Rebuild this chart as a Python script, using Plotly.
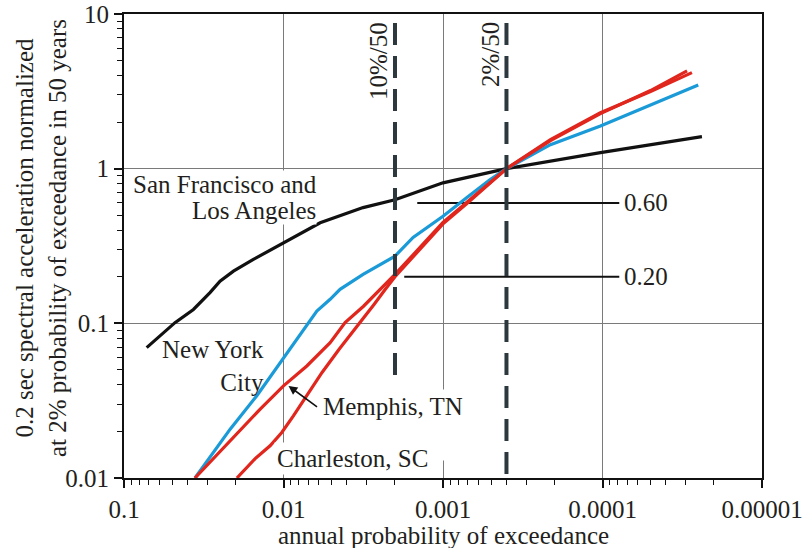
import math
import plotly.graph_objects as go

# ---- data ----
sf_x = [0.0721, 0.0479, 0.0367, 0.0289, 0.025, 0.0206, 0.01545, 0.01, 0.00589, 0.00317,
        0.002, 0.001, 0.0004, 0.000103, 0.00005, 0.0000238]
sf_y = [0.0697, 0.101, 0.123, 0.158, 0.1875, 0.2175, 0.259, 0.332, 0.447, 0.56,
        0.63, 0.81, 1.0, 1.27, 1.43, 1.61]

nyc_x = [0.0359, 0.0216, 0.0147, 0.01, 0.00698, 0.00618, 0.0051, 0.00442, 0.00317, 0.002,
         0.00154, 0.001, 0.000708, 0.000506, 0.0004, 0.000212, 0.000103, 0.00005, 0.0000251]
nyc_y = [0.01, 0.0207, 0.034, 0.060, 0.101, 0.12, 0.143, 0.166, 0.207, 0.272,
         0.359, 0.492, 0.65, 0.849, 1.0, 1.43, 1.89, 2.59, 3.48]

mem_x = [0.0359, 0.0216, 0.0140, 0.01, 0.00714, 0.0051, 0.00411, 0.00315, 0.00248, 0.002,
         0.001, 0.000708, 0.0004, 0.000212, 0.000103, 0.00005, 0.0000275]
mem_y = [0.01, 0.0174, 0.0279, 0.0394, 0.053, 0.075, 0.101, 0.129, 0.166, 0.207,
         0.449, 0.604, 1.0, 1.54, 2.30, 3.15, 4.18]

chs_x = [0.0196, 0.0151, 0.01214, 0.01025, 0.00867, 0.00714, 0.00573, 0.00448, 0.0033, 0.0027,
         0.0023, 0.002, 0.001, 0.000708, 0.0004, 0.000212, 0.000103, 0.00005, 0.0000295]
chs_y = [0.01, 0.0133, 0.01616, 0.0197, 0.0252, 0.034, 0.0481, 0.068, 0.101, 0.133,
         0.166, 0.20, 0.44, 0.595, 1.0, 1.52, 2.27, 3.2, 4.29]

hazard_levels = [0.002, 0.0004]          # 10%/50, 2%/50
hazard_labels = ["10%/50", "2%/50"]
hazard_ytop = [8.75, 8.75]
hazard_ybot = [0.045, 0.01]

ratio_vals = [0.60, 0.20]
ratio_labels = ["0.60", "0.20"]
ratio_xstart = [0.00145, 0.00175]
ratio_xend = [0.0000785, 0.0000785]

x_ticks = [0.1, 0.01, 0.001, 0.0001, 0.00001]
x_ticklabels = ["0.1", "0.01", "0.001", "0.0001", "0.00001"]
y_ticks = [0.01, 0.1, 1, 10]
y_ticklabels = ["0.01", "0.1", "1", "10"]

x_minor = [m * 10 ** k for k in range(-5, -1) for m in range(2, 10)]
y_minor = [m * 10 ** k for k in range(-2, 1) for m in range(2, 10)]

FONT = "Liberation Serif"
TXT = "#231f20"
FS = 25

fig = go.Figure()

# ratio indicator lines
for v, xs, xe in zip(ratio_vals, ratio_xstart, ratio_xend):
    fig.add_trace(go.Scatter(x=[xs, xe], y=[v, v], mode="lines",
                             line=dict(color="#111111", width=2.2), hoverinfo="skip"))

series = [
    (sf_x, sf_y, "#111111"),
    (nyc_x, nyc_y, "#1b9ad8"),
    (mem_x, mem_y, "#e0261d"),
    (chs_x, chs_y, "#e0261d"),
]
for xs, ys, c in series:
    fig.add_trace(go.Scatter(x=xs, y=ys, mode="lines",
                             line=dict(color=c, width=3.2), hoverinfo="skip"))

# hazard-level dashed lines
for h, yt, yb in zip(hazard_levels, hazard_ytop, hazard_ybot):
    fig.add_trace(go.Scatter(x=[h, h], y=[yt, yb], mode="lines",
                             line=dict(color="#2d383e", width=4, dash="22px,11px"),
                             hoverinfo="skip"))

def px2paper_x(px):
    return (px - 124) / 638.0

def px2paper_y(py):
    return (478 - py) / 464.0

ann = []
tf = dict(family=FONT, size=FS, color=TXT)

ann.append(dict(text="San Francisco and", xref="paper", yref="paper",
                x=px2paper_x(318), y=px2paper_y(184), xanchor="right", yanchor="middle",
                align="right", showarrow=False, font=tf, bgcolor="white", borderpad=0))
ann.append(dict(text="Los Angeles", xref="paper", yref="paper",
                x=px2paper_x(317), y=px2paper_y(210), xanchor="right", yanchor="middle",
                align="right", showarrow=False, font=tf, bgcolor="white", borderpad=0))
ann.append(dict(text="New York<br>City", xref="paper", yref="paper",
                x=px2paper_x(266), y=px2paper_y(366), xanchor="right", yanchor="middle",
                align="right", showarrow=False, font=tf))
ann.append(dict(text="Memphis, TN", xref="paper", yref="paper",
                x=px2paper_x(319), y=px2paper_y(389), xanchor="left", yanchor="top",
                valign="top", height=64, align="left", showarrow=False, font=tf,
                bgcolor="white", borderpad=3))
ann.append(dict(text="Charleston, SC", xref="paper", yref="paper",
                x=px2paper_x(274), y=px2paper_y(458), xanchor="left", yanchor="middle",
                align="left", showarrow=False, font=tf, bgcolor="white", borderpad=2))
# arrow to Memphis curve
ann.append(dict(text="", x=math.log10(mem_x[3] * 0.93), y=math.log10(mem_y[3]),
                xref="x", yref="y", showarrow=True, arrowhead=2, arrowsize=1.1,
                arrowwidth=1.6, arrowcolor="#111111", ax=30, ay=22))

for v, lab in zip(ratio_vals, ratio_labels):
    ann.append(dict(text=lab, xref="paper", yref="y", x=px2paper_x(622), y=math.log10(v),
                    xanchor="left", yanchor="middle", showarrow=False, font=tf))

hz_pos = [(378, 61), (490, 55)]
for lab, (px, py) in zip(hazard_labels, hz_pos):
    ann.append(dict(text=lab, xref="paper", yref="paper", x=px2paper_x(px), y=px2paper_y(py),
                    xanchor="center", yanchor="middle", textangle=-90, showarrow=False,
                    font=tf))

ann.append(dict(text="0.2 sec spectral acceleration normalized<br>at 2% probability of exceedance in 50 years",
                xref="paper", yref="paper", x=px2paper_x(41), y=px2paper_y(238),
                xanchor="center", yanchor="middle", textangle=-90, showarrow=False,
                font=tf, align="center"))
ann.append(dict(text="annual probability of exceedance", xref="paper", yref="paper",
                x=px2paper_x(443.5), y=px2paper_y(535), xanchor="center", yanchor="middle",
                showarrow=False, font=tf))

axis_common = dict(
    type="log", showline=True, linecolor="#111111", linewidth=2.2, mirror=True,
    ticks="outside", ticklen=8, tickwidth=1.5, tickcolor="#111111",
    showgrid=True, gridcolor="#7a7a7a", gridwidth=1.2, zeroline=False, automargin=False,
    tickfont=dict(family=FONT, size=FS, color=TXT), tickmode="array",
)

fig.update_layout(
    width=804, height=548,
    margin=dict(l=124, r=42, t=14, b=70),
    plot_bgcolor="white", paper_bgcolor="white",
    showlegend=False,
    font=dict(family=FONT, size=FS, color=TXT),
    annotations=ann,
    xaxis=dict(axis_common, range=[-1, -5], tickvals=x_ticks, ticktext=x_ticklabels,
               minor=dict(tickmode="array", tickvals=x_minor, ticks="outside", ticklen=5,
                          tickwidth=1.2, tickcolor="#111111", showgrid=False)),
    yaxis=dict(axis_common, range=[-2, 1], tickvals=y_ticks, ticktext=y_ticklabels,
               minor=dict(tickmode="array", tickvals=y_minor, ticks="outside", ticklen=5,
                          tickwidth=1.2, tickcolor="#111111", showgrid=False)),
)

# remove the default page margin so the 804x548 figure fills the window exactly
fig.write_html("out.html", config={"displayModeBar": False},
               post_script="document.body.style.margin='0px';document.body.style.overflow='hidden';")
